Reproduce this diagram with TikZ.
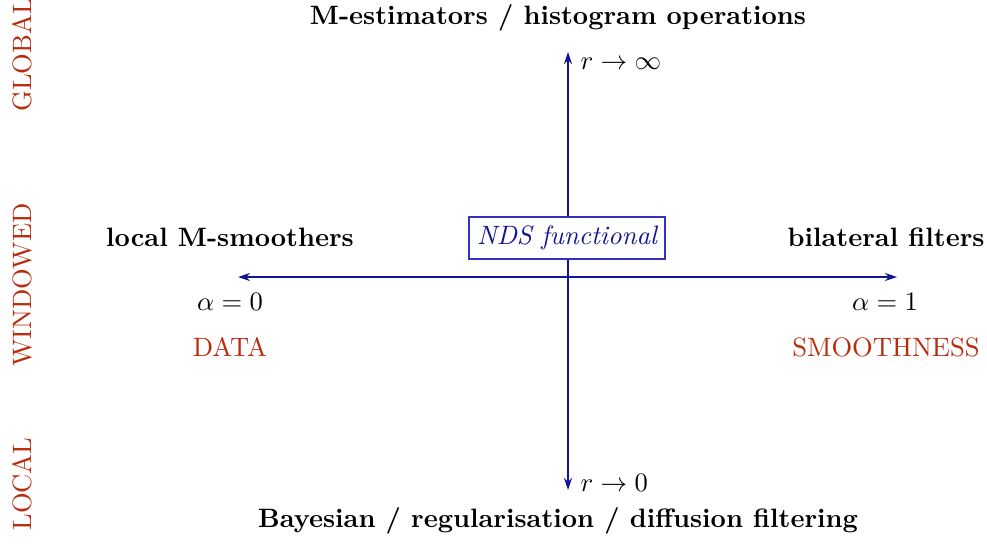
\documentclass[tikz,border=0pt]{standalone}
\usetikzlibrary{arrows.meta}
\definecolor{axisblue}{RGB}{20,20,150}
\definecolor{boxblue}{RGB}{50,50,190}
\definecolor{labred}{RGB}{185,45,15}
\begin{document}
\begin{tikzpicture}[x=0.376pt,y=-0.376pt,
  axis/.style={draw=axisblue,line width=1pt,{Stealth[length=4.5pt,width=3pt]}-{Stealth[length=4.5pt,width=3pt]}},
  head/.style={font=\bfseries,inner sep=0pt},
  lab/.style={inner sep=0pt},
  red/.style={text=labred,inner sep=0pt},
  side/.style={text=labred,inner sep=0pt,rotate=90},
  ndsbox/.style={draw=boxblue,line width=0.45pt,fill=white,text=axisblue,font=\itshape,minimum width=196*0.376pt,minimum height=42*0.376pt,inner sep=0pt}]
\useasboundingbox (0,0) rectangle (987,543);
\coordinate (top) at (568,52);
\coordinate (bot) at (568,490);
\coordinate (lft) at (238,277);
\coordinate (rgt) at (897,277);
\draw[axis] (bot) -- (top);
\draw[axis] (lft) -- (rgt);
\node[ndsbox] (nds) at (567,238) {NDS functional};
\node[head] (glob) at (558,18) {M-estimators / histogram operations};
\node[head] (loc) at (558,521) {Bayesian / regularisation / diffusion filtering};
\node[head] (lms) at (230,237) {local M-smoothers};
\node[head] (bil) at (886,237) {bilateral filters};
\node[lab,anchor=west] (rinf) at (580,64) {$r\rightarrow\infty$};
\node[lab,anchor=west] (rzero) at (580,483) {$r\rightarrow0$};
\node[lab] (a0) at (230,302) {$\alpha=0$};
\node[lab] (a1) at (885,302) {$\alpha=1$};
\node[red] (data) at (230,347) {DATA};
\node[red] (smooth) at (886,347) {SMOOTHNESS};
\node[side] (sg) at (22,55) {GLOBAL};
\node[side] (sw) at (22,285) {WINDOWED};
\node[side] (sl) at (22,484) {LOCAL};
\end{tikzpicture}
\end{document}
